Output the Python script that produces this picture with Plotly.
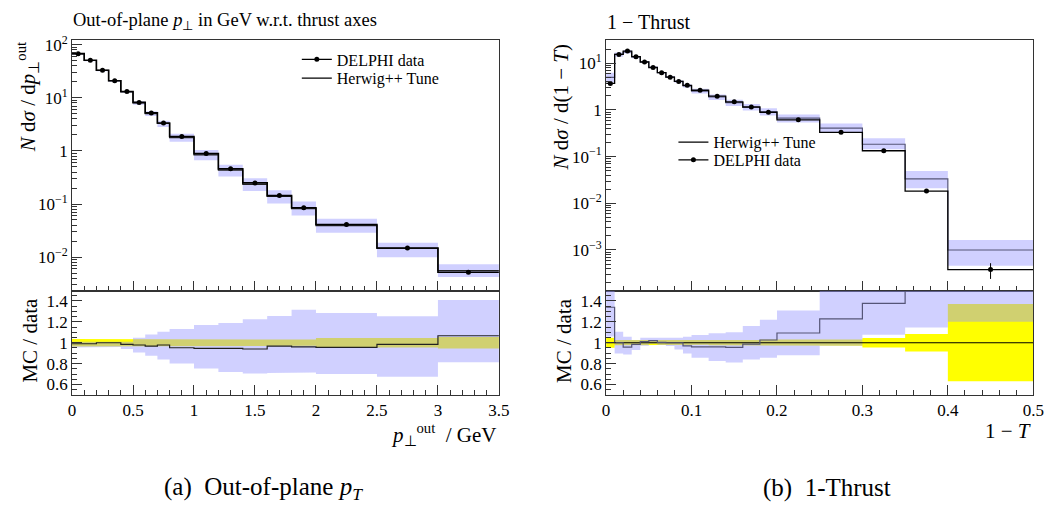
import plotly.graph_objects as go

# ---------------- Panel (a): out-of-plane pT ----------------
pt_edges = [0, 0.1, 0.2, 0.3, 0.4, 0.5, 0.6, 0.7, 0.8, 1.0, 1.2, 1.4, 1.6, 1.8, 2.0, 2.5, 3.0, 3.5]
pt_data = [68, 51, 33, 21, 13.2, 8.2, 5.2, 3.36, 1.87, 0.89, 0.46, 0.25, 0.144, 0.085, 0.041, 0.0148, 0.0052]
pt_data_relerr = [0.035, 0.03, 0.03, 0.03, 0.03, 0.03, 0.03, 0.03, 0.03, 0.03, 0.03, 0.03, 0.03, 0.03, 0.045, 0.045, 0.055]
pt_mc_ratio = [0.99, 0.99, 1.0, 1.0, 0.984, 0.978, 0.968, 0.978, 0.952, 0.945, 0.945, 0.94, 0.968, 0.96, 0.955, 0.984, 1.067]
pt_mc_band_lo = [0.955, 0.955, 0.96, 0.96, 0.94, 0.907, 0.875, 0.84, 0.80, 0.753, 0.72, 0.705, 0.71, 0.715, 0.70, 0.673, 0.814]
pt_mc_band_hi = [1.01, 1.01, 1.01, 1.01, 1.01, 1.048, 1.08, 1.106, 1.131, 1.17, 1.19, 1.224, 1.256, 1.317, 1.285, 1.253, 1.41]

# ---------------- Panel (b): 1 - Thrust ----------------
t_edges = [0, 0.01, 0.02, 0.03, 0.04, 0.05, 0.06, 0.07, 0.08, 0.09, 0.1, 0.12, 0.14, 0.16, 0.18, 0.2, 0.25, 0.3, 0.35, 0.4, 0.5]
t_data = [3.72, 15.5, 18.3, 13.9, 10.7, 8.1, 6.3, 5.06, 4.1, 3.38, 2.65, 1.98, 1.5, 1.16, 0.895, 0.615, 0.332, 0.134, 0.0183, 3.8e-4]
t_data_relerr = [0.048, 0.025, 0.02, 0.02, 0.02, 0.02, 0.02, 0.02, 0.02, 0.02, 0.02, 0.025, 0.025, 0.025, 0.03, 0.03, 0.03, 0.045, 0.083, 0.37]
t_mc_ratio = [1.34, 1.0, 0.958, 0.984, 1.01, 1.02, 1.003, 1.0, 1.0, 0.97, 0.96, 0.96, 0.955, 0.987, 1.026, 1.093, 1.228, 1.378, 1.82, 2.63]
t_mc_band_lo = [1.06, 0.897, 0.888, 0.93, 0.97, 0.99, 0.978, 0.968, 0.936, 0.897, 0.856, 0.824, 0.81, 0.84, 0.856, 0.88, 0.97, 1.077, 1.147, 1.2]
t_mc_band_hi = [1.7, 1.106, 1.058, 1.026, 1.048, 1.048, 1.042, 1.042, 1.048, 1.058, 1.074, 1.09, 1.1, 1.16, 1.22, 1.31, 1.55, 1.85, 2.7, 4.3]

# tick labels
log_tick_vals_a = [0.01, 0.1, 1, 10, 100]
log_tick_text_a = ["10<sup>−2</sup>", "10<sup>−1</sup>", "1", "10<sup>1</sup>", "10<sup>2</sup>"]
log_tick_vals_b = [0.001, 0.01, 0.1, 1, 10]
log_tick_text_b = ["10<sup>−3</sup>", "10<sup>−2</sup>", "10<sup>−1</sup>", "1", "10<sup>1</sup>"]
ratio_tick_vals = [0.6, 0.8, 1.0, 1.2, 1.4]
ratio_tick_text = ["0.6", "0.8", "1", "1.2", "1.4"]

FONT = "Liberation Serif"
BLUE_BAND = "rgba(148,148,255,0.44)"
YELLOW = "#ffff00"
MC_COL_B = "#555577"


def step_xy(edges, vals):
    return list(edges), list(vals) + [vals[-1]]


def band_xy(edges, lo, hi):
    xs, ys = [], []
    for i in range(len(lo)):
        xs += [edges[i], edges[i + 1]]
        ys += [hi[i], hi[i]]
    for i in reversed(range(len(lo))):
        xs += [edges[i + 1], edges[i]]
        ys += [lo[i], lo[i]]
    return xs, ys


def centers(edges):
    return [(edges[i] + edges[i + 1]) / 2 for i in range(len(edges) - 1)]


fig = go.Figure()


def add_panel(edges, data, relerr, ratio, blo, bhi, xm, ym, xr, yr, mc_col, data_w, draw_unity):
    mc = [r * d for r, d in zip(ratio, data)]
    mlo = [b * d for b, d in zip(blo, data)]
    mhi = [b * d for b, d in zip(bhi, data)]
    bx, by = band_xy(edges, mlo, mhi)
    fig.add_trace(go.Scatter(x=bx, y=by, fill="toself", fillcolor=BLUE_BAND, line=dict(width=0),
                             mode="lines", hoverinfo="skip", showlegend=False, xaxis=xm, yaxis=ym))
    sx, sy = step_xy(edges, mc)
    fig.add_trace(go.Scatter(x=sx, y=sy, mode="lines", line=dict(color=mc_col, width=1.2, shape="hv"),
                             showlegend=False, xaxis=xm, yaxis=ym))
    sx, sy = step_xy(edges, data)
    fig.add_trace(go.Scatter(x=sx, y=sy, mode="lines", line=dict(color="black", width=data_w, shape="hv"),
                             showlegend=False, xaxis=xm, yaxis=ym))
    fig.add_trace(go.Scatter(x=centers(edges), y=data, mode="markers",
                             marker=dict(color="black", size=5),
                             error_y=dict(type="data", array=[d * e for d, e in zip(data, relerr)],
                                          color="black", thickness=1, width=0),
                             showlegend=False, xaxis=xm, yaxis=ym))
    dlo = [1 - e for e in relerr]
    dhi = [1 + e for e in relerr]
    bx, by = band_xy(edges, dlo, dhi)
    fig.add_trace(go.Scatter(x=bx, y=by, fill="toself", fillcolor=YELLOW, line=dict(width=0),
                             mode="lines", hoverinfo="skip", showlegend=False, xaxis=xr, yaxis=yr))
    bx, by = band_xy(edges, blo, bhi)
    fig.add_trace(go.Scatter(x=bx, y=by, fill="toself", fillcolor=BLUE_BAND, line=dict(width=0),
                             mode="lines", hoverinfo="skip", showlegend=False, xaxis=xr, yaxis=yr))
    if draw_unity:
        sx, sy = step_xy(edges, [d / d for d in data])
        fig.add_trace(go.Scatter(x=sx, y=sy, mode="lines", line=dict(color="black", width=1.2, shape="hv"),
                                 showlegend=False, xaxis=xr, yaxis=yr))
    sx, sy = step_xy(edges, ratio)
    fig.add_trace(go.Scatter(x=sx, y=sy, mode="lines", line=dict(color=mc_col, width=1.2, shape="hv"),
                             showlegend=False, xaxis=xr, yaxis=yr))


add_panel(pt_edges, pt_data, pt_data_relerr, pt_mc_ratio, pt_mc_band_lo, pt_mc_band_hi,
          "x", "y", "x2", "y2", "#222222", 1.6, False)
add_panel(t_edges, t_data, t_data_relerr, t_mc_ratio, t_mc_band_lo, t_mc_band_hi,
          "x3", "y3", "x4", "y4", MC_COL_B, 1.3, True)

# legend entries
fig.add_trace(go.Scatter(x=[None], y=[None], mode="lines+markers", name="DELPHI data",
                         line=dict(color="black", width=1.2), marker=dict(color="black", size=5),
                         legend="legend", xaxis="x", yaxis="y"))
fig.add_trace(go.Scatter(x=[None], y=[None], mode="lines", name="Herwig++ Tune",
                         line=dict(color="black", width=1.2), legend="legend2", xaxis="x", yaxis="y"))
fig.add_trace(go.Scatter(x=[None], y=[None], mode="lines", name="Herwig++ Tune",
                         line=dict(color="black", width=1.2), legend="legend3", xaxis="x3", yaxis="y3"))
fig.add_trace(go.Scatter(x=[None], y=[None], mode="lines+markers", name="DELPHI data",
                         line=dict(color="black", width=1.2), marker=dict(color="black", size=5),
                         legend="legend4", xaxis="x3", yaxis="y3"))

W, H = 1064, 516
XL = [69 / W, 502 / W]
XR = [610.7 / W, 1044 / W]
YM = [(H - 287) / H, (H - 33) / H]
YR = [(H - 393) / H, (H - 287) / H]

tickfont = dict(family=FONT, size=17, color="black")
LINEC = "#333333"


def log_minors(lo, hi):
    return [m * 10 ** k for k in range(lo, hi) for m in range(2, 10)]


common_x = dict(showline=True, linecolor=LINEC, linewidth=1, mirror=True, ticks="inside",
                ticklen=10, tickcolor=LINEC, showgrid=False, zeroline=False, tickfont=tickfont)
common_y = dict(showline=True, linecolor=LINEC, linewidth=1, mirror=True, ticks="inside",
                ticklen=10, tickcolor=LINEC, showgrid=False, zeroline=False, tickfont=tickfont)


def leg(xpx, ypx):
    return dict(x=xpx / W, y=(H - ypx) / H, xanchor="left", yanchor="top",
                bgcolor="rgba(0,0,0,0)", font=dict(family=FONT, size=16, color="black"),
                itemwidth=30, borderwidth=0)


fig.update_layout(
    width=W, height=H, margin=dict(l=0, r=0, t=0, b=0),
    paper_bgcolor="white", plot_bgcolor="white",
    xaxis=dict(domain=XL, range=[0, 3.5], anchor="y", dtick=0.5, tick0=0, showticklabels=False,
               minor=dict(dtick=0.1, tick0=0, ticks="inside", ticklen=5, tickcolor=LINEC), **common_x),
    yaxis=dict(domain=YM, type="log", range=[-2.63, 2.08], anchor="x", tickmode="array",
               tickvals=log_tick_vals_a, ticktext=log_tick_text_a,
               minor=dict(tickmode="array", tickvals=log_minors(-3, 3), ticks="inside", ticklen=5, tickcolor=LINEC),
               **common_y),
    xaxis2=dict(domain=XL, range=[0, 3.5], anchor="y2", dtick=0.5, tick0=0, tickformat="~g",
                minor=dict(dtick=0.1, tick0=0, ticks="inside", ticklen=5, tickcolor=LINEC), **common_x),
    yaxis2=dict(domain=YR, range=[0.5, 1.5], anchor="x2", tickmode="array",
                tickvals=ratio_tick_vals, ticktext=ratio_tick_text,
                minor=dict(dtick=0.05, tick0=0.5, ticks="inside", ticklen=5, tickcolor=LINEC), **common_y),
    xaxis3=dict(domain=XR, range=[0, 0.5], anchor="y3", dtick=0.1, tick0=0, showticklabels=False,
                minor=dict(dtick=0.02, tick0=0, ticks="inside", ticklen=5, tickcolor=LINEC), **common_x),
    yaxis3=dict(domain=YM, type="log", range=[-3.87, 1.49], anchor="x3", tickmode="array",
                tickvals=log_tick_vals_b, ticktext=log_tick_text_b,
                minor=dict(tickmode="array", tickvals=log_minors(-4, 2), ticks="inside", ticklen=5, tickcolor=LINEC),
                **common_y),
    xaxis4=dict(domain=XR, range=[0, 0.5], anchor="y4", dtick=0.1, tick0=0, tickformat="~g",
                minor=dict(dtick=0.02, tick0=0, ticks="inside", ticklen=5, tickcolor=LINEC), **common_x),
    yaxis4=dict(domain=YR, range=[0.5, 1.5], anchor="x4", tickmode="array",
                tickvals=ratio_tick_vals, ticktext=ratio_tick_text,
                minor=dict(dtick=0.05, tick0=0.5, ticks="inside", ticklen=5, tickcolor=LINEC), **common_y),
    legend=leg(297, 35),
    legend2=leg(297, 54),
    legend3=leg(679, 119),
    legend4=leg(679, 137),
)

af = dict(family=FONT, color="black")
ann = [
    dict(text="Out-of-plane <i>p</i><sub>⊥</sub> in GeV w.r.t. thrust axes", x=68 / W, y=(H - 14) / H,
         xanchor="left", yanchor="middle", font=dict(size=18.5, **af)),
    dict(text="1 − Thrust", x=610 / W, y=(H - 14) / H, xanchor="left", yanchor="middle", font=dict(size=20, **af)),
    dict(text="<i>N</i> d<i>σ</i> / d<i>p</i><sub>⊥</sub><sup>out</sup>", x=24 / W, y=(H - 33) / H,
         xanchor="center", yanchor="top", textangle=-90, font=dict(size=21, **af)),
    dict(text="MC / data", x=26 / W, y=(H - 292) / H, xanchor="center", yanchor="top", textangle=-90,
         font=dict(size=21, **af)),
    dict(text="<i>N</i> d<i>σ</i> / d(1 − <i>T</i>)", x=565 / W, y=(H - 35) / H,
         xanchor="center", yanchor="top", textangle=-90, font=dict(size=21, **af)),
    dict(text="MC / data", x=568 / W, y=(H - 292) / H, xanchor="center", yanchor="top", textangle=-90,
         font=dict(size=21, **af)),
    dict(text="<i>p</i><sub>⊥</sub><sup>out</sup>  / GeV", x=502 / W, y=(H - 433) / H,
         xanchor="right", yanchor="middle", font=dict(size=21, **af)),
    dict(text="1 − <i>T</i>", x=1044 / W, y=(H - 430) / H, xanchor="right", yanchor="middle",
         font=dict(size=21, **af)),
    dict(text="(a)  Out-of-plane <i>p<sub>T</sub></i>", x=263 / W, y=(H - 488) / H, xanchor="center",
         yanchor="middle", font=dict(size=25, **af)),
    dict(text="(b)  1-Thrust", x=835 / W, y=(H - 488) / H, xanchor="center", yanchor="middle",
         font=dict(size=25, **af)),
]
for a in ann:
    a.update(xref="paper", yref="paper", showarrow=False)
fig.update_layout(annotations=ann)

fig.write_html("out.html")
